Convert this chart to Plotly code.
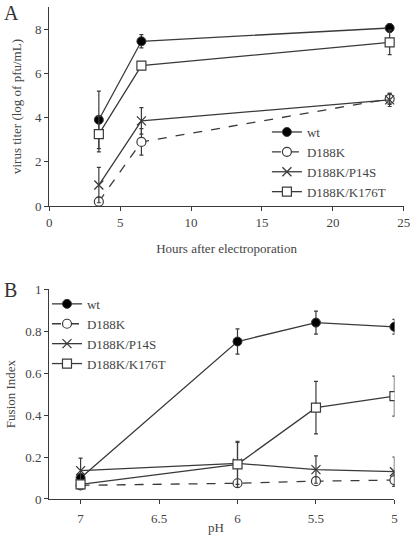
import plotly.graph_objects as go

# Panel A data
hours = [3.5, 6.5, 24]
a_wt = [3.9, 7.45, 8.05]
a_wt_err = [1.3, 0.3, 0.2]
a_d188k = [0.2, 2.9, 4.85]
a_d188k_err = [0.2, 0.6, 0.25]
a_p14s = [0.95, 3.85, 4.8]
a_p14s_err = [0.8, 0.6, 0.3]
a_k176t = [3.25, 6.35, 7.4]
a_k176t_err = [0.8, 0.15, 0.55]

# Panel B data
ph = [7, 6, 5.5, 5]
b_wt = [0.10, 0.75, 0.84, 0.82]
b_wt_err = [0.02, 0.06, 0.055, 0.035]
b_d188k = [0.065, 0.075, 0.085, 0.09]
b_d188k_err = [0.01, 0.01, 0.015, 0.03]
b_p14s = [0.135, 0.17, 0.14, 0.13]
b_p14s_err = [0.06, 0.1, 0.065, 0.07]
b_k176t = [0.07, 0.165, 0.435, 0.49]
b_k176t_err = [0.01, 0.11, 0.125, 0.095]

names = ["wt", "D188K", "D188K/P14S", "D188K/K176T"]
dashes = ["solid", "dash", "solid", "solid"]
LC = "#3a3a3a"
FONT = "Liberation Serif"

fig = go.Figure()

def marker(i):
    if i == 0:
        return dict(symbol="circle", size=9, color="black", line=dict(color=LC, width=1))
    if i == 1:
        return dict(symbol="circle", size=9, color="white", line=dict(color=LC, width=1.2))
    if i == 2:
        return dict(symbol="x-thin", size=9, color=LC, line=dict(color=LC, width=1.3))
    return dict(symbol="square", size=9, color="white", line=dict(color=LC, width=1.2))

def add(x, y, e, i, xa, ya, leg, grp):
    fig.add_trace(go.Scatter(
        x=x, y=y, mode="lines+markers", name=names[i],
        line=dict(color=LC, width=1.3, dash=dashes[i]),
        marker=marker(i),
        error_y=dict(type="data", array=e, visible=True, color=LC, thickness=1.2, width=2),
        xaxis=xa, yaxis=ya, legend=leg, legendgroup=grp))

A = [(a_wt, a_wt_err), (a_d188k, a_d188k_err), (a_p14s, a_p14s_err), (a_k176t, a_k176t_err)]
B = [(b_wt, b_wt_err), (b_d188k, b_d188k_err), (b_p14s, b_p14s_err), (b_k176t, b_k176t_err)]
for i, (y, e) in enumerate(A):
    add(hours, y, e, i, "x", "y", "legend", f"a{i}")
for i, (y, e) in enumerate(B):
    add(ph, y, e, i, "x2", "y2", "legend2", f"b{i}")

axcommon = dict(showline=True, linecolor=LC, linewidth=1.2, ticks="outside",
                tickcolor=LC, ticklen=4, showgrid=False, zeroline=False, automargin=False,
                ticklabeloverflow="allow",
                tickfont=dict(family=FONT, size=13, color="#444"),
                title_font=dict(family=FONT, size=13, color="#444"))

fig.update_layout(
    width=410, height=538, margin=dict(l=0, r=0, t=0, b=0, autoexpand=False),
    plot_bgcolor="white", paper_bgcolor="white",
    font=dict(family=FONT, color="#444"),
    xaxis=dict(domain=[0.120, 0.985], range=[0, 25], tickvals=[0, 5, 10, 15, 20, 25],
               title=dict(text="Hours after electroporation", standoff=15), anchor="y", **axcommon),
    yaxis=dict(domain=[0.617, 0.987], range=[0, 9], tickvals=[0, 2, 4, 6, 8],
               title=dict(text="virus titer (log of pfu/mL)", standoff=10), anchor="x", **axcommon),
    xaxis2=dict(domain=[0.120, 0.962], range=[7.2, 5], tickvals=[7, 6.5, 6, 5.5, 5],
                anchor="y2", ticklabelstandoff=3, **axcommon),
    yaxis2=dict(domain=[0.0725, 0.4628], range=[0, 1], tickvals=[0, 0.2, 0.4, 0.6, 0.8, 1],
                title=dict(text="Fusion Index", standoff=6), anchor="x2", **axcommon),
    legend=dict(x=0.651, y=0.7825, xanchor="left", yanchor="top", bgcolor="rgba(0,0,0,0)",
                font=dict(family=FONT, size=13, color="#444"), tracegroupgap=0,
                itemwidth=30, traceorder="normal"),
    legend2=dict(x=0.1146, y=0.463, xanchor="left", yanchor="top", bgcolor="rgba(0,0,0,0)",
                 font=dict(family=FONT, size=13, color="#444"), tracegroupgap=4,
                 itemwidth=30, traceorder="normal"),
    annotations=[
        dict(text="A", x=0.005, y=1.0, xref="paper", yref="paper", xanchor="left", yanchor="top",
             showarrow=False, font=dict(family=FONT, size=20, color="#333")),
        dict(text="B", x=0.005, y=0.485, xref="paper", yref="paper", xanchor="left", yanchor="top",
             showarrow=False, font=dict(family=FONT, size=20, color="#333")),
        dict(text="pH", x=0.527, y=0.0186, xref="paper", yref="paper", xanchor="center", yanchor="middle",
             showarrow=False, font=dict(family=FONT, size=13, color="#444")),
    ],
)

fig.write_html("out.html")
